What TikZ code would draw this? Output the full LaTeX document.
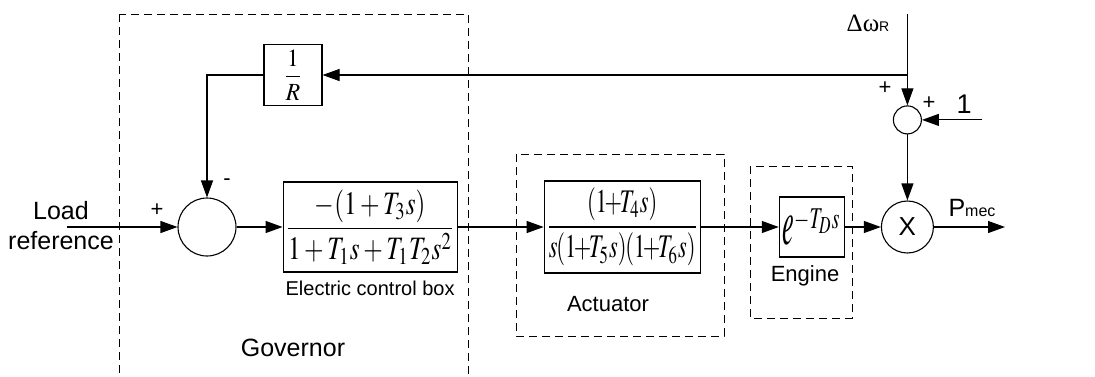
\documentclass[tikz,border=0pt]{standalone}
\usepackage{graphicx}
\usepackage{mathptmx}
\usepackage[no-math]{fontspec}
\setmainfont{Liberation Sans}
\newfontfamily\greekserif{Liberation Serif}
\usetikzlibrary{positioning,arrows.meta,calc}
\tikzset{
  block/.style={rectangle,draw=black,line width=1.1pt,inner sep=0pt,align=center},
  sumnode/.style={circle,draw=black,line width=1.1pt,inner sep=0pt},
  groupbox/.style={draw=black,line width=1pt,dash pattern=on 8pt off 5pt},
  sig/.style={-{Triangle[length=17pt,width=12pt]},line width=1.1pt},
  lbl/.style={inner sep=0pt,font=\fontsize{22}{26}\selectfont},
  biglbl/.style={inner sep=0pt,font=\fontsize{25}{30}\selectfont,align=center}
}

\begin{document}
\begin{tikzpicture}[x=1pt,y=-1pt]
  \useasboundingbox (0,0) rectangle (1095,376);
  % dashed groups
  \draw[groupbox] (119,14) rectangle (468,390);
  \draw[groupbox] (516,154) rectangle (724,336);
  \draw[groupbox] (750,166) rectangle (852,318);
  % forward path
  \node[sumnode,minimum size=58pt] (sum) at (207,227) {};
  \node[block,minimum width=174pt,minimum height=90pt,right=46pt of sum] (ecb)
    {\resizebox*{170pt}{74pt}{$\displaystyle\frac{-(1+T_3s)}{1+T_1s+T_1T_2s^2}$}};
  \node[block,minimum width=156pt,minimum height=92pt,right=86pt of ecb] (act)
    {\resizebox*{152pt}{78pt}{$\displaystyle\frac{(1\mkern-2mu{+}\mkern-2mu T_4s)}
      {s\mkern-1mu(1\mkern-2mu{+}\mkern-2mu T_5s)\mkern-1mu(1\mkern-2mu{+}\mkern-2mu T_6s)}$}};
  \node[block,minimum width=65pt,minimum height=60pt,right=78pt of act] (eng)
    {\resizebox*{58pt}{37pt}{$\scalebox{1}[1.6]{$e$}^{-T_Ds}$}};
  \node[sumnode,minimum size=52pt,right=36pt of eng,font=\fontsize{26}{30}\selectfont] (prod) {X};
  \node[sumnode,minimum size=28pt,above=66pt of prod] (sum2) {};
  \node[block,minimum width=58pt,minimum height=61pt] (gain) at (293,75)
    {\resizebox*{20pt}{50pt}{$\displaystyle\frac{1}{R}$}};
  % texts
  \node[biglbl] (lreftxt) at (61,226) {Load\\reference};
  \node[lbl,font=\fontsize{20}{24}\selectfont,below=8pt of ecb] (ecbtxt) {Electric control box};
  \node[biglbl] (govtxt) at (293,348) {Governor};
  \node[lbl] (acttxt) at (608,304) {Actuator};
  \node[lbl] (engtxt) at (805,276) {Engine};
  \node[inner sep=0pt] (dwtxt) at (868,23)
    {{\greekserif\fontsize{25}{28}\selectfont Δω}{\fontsize{14}{16}\selectfont R}};
  \node[inner sep=0pt] (pmectxt) at (972,208)
    {{\fontsize{25}{28}\selectfont P}{\fontsize{16}{18}\selectfont mec}};
  \node[biglbl,font=\fontsize{27}{30}\selectfont] (onetxt) at (964,104) {1};
  \node[lbl] (plusa) at (157,210) {+};
  \node[lbl] (minusa) at (227,182) {-};
  \node[lbl] (plusb) at (885,88) {+};
  \node[lbl] (plusc) at (929,103) {+};
  % free ends
  \coordinate (lref) at (67,227);
  \coordinate (dw) at (sum2 |- 0,14);
  \coordinate (one) at (982,0 |- sum2);
  \coordinate (pout) at (1005,227);
  \coordinate (fbtap) at (dw |- gain);
  \coordinate (fbcorner) at (sum |- gain);
  % connectors
  \draw[sig] (lref) -- (sum);
  \draw[sig] (sum) -- (ecb);
  \draw[sig] (ecb) -- (act);
  \draw[sig] (act) -- (eng);
  \draw[sig] (eng) -- (prod);
  \draw[sig] (prod) -- (pout);
  \draw[sig] (dw) -- (sum2);
  \draw[sig] (one) -- (sum2);
  \draw[sig] (sum2) -- (prod);
  \draw[sig] (fbtap) -- (gain);
  \draw[sig] (gain) -- (fbcorner) -- (sum);
\end{tikzpicture}
\end{document}
